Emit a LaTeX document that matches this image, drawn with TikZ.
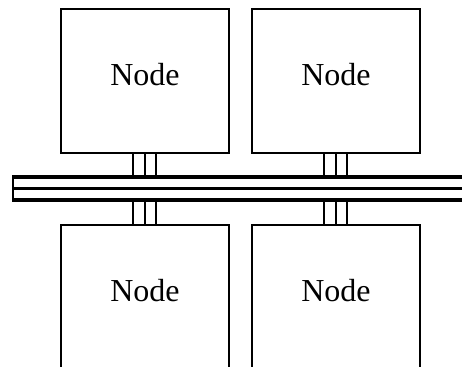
\documentclass[tikz,border=0pt]{standalone}
\usepackage{fontspec}
\setmainfont{Liberation Serif}
\usetikzlibrary{positioning}

\begin{document}
\begin{tikzpicture}[x=1pt, y=-1pt,
  box/.style={draw, line width=2pt, minimum width=168pt, minimum height=144pt, inner sep=0pt},
  txt/.style={font=\fontsize{32}{38}\selectfont, inner sep=0pt},
  bus/.style={line width=3.3pt},
  tap/.style={line width=2.8pt}]
\clip (0,0) rectangle (462,366);
% boxes
\node [box,name=n1] at (145,81) {};
\node [box,name=n2,right=21pt of n1] {};
\node [box,name=n3] at (145,297) {};
\node [box,name=n4,right=21pt of n3] {};
\foreach \n in {n1,n2,n3,n4}
  \node [txt] at ([yshift=6.6pt]\n.center) {Node};
% the bus
\coordinate (bt) at (13,177);
\coordinate (bm) at (13,188.5);
\coordinate (bb) at (13,200);
\draw [bus] (bt) -- ++(460,0);
\draw [bus] (bm) -- ++(460,0);
\draw [bus] (bb) -- ++(460,0);
\draw [line width=2.2pt] ([yshift=1.65pt]bt) -- ([yshift=-1.65pt]bb);
% taps
\foreach \a/\b in {n1/n3,n2/n4}
  \foreach \dx in {-12,0,11} {
    \path (\a.south) ++(\dx,0) coordinate (p);
    \path (\b.north) ++(\dx,0) coordinate (q);
    \draw [tap] (p) -- (p |- bt);
    \draw [tap] (q) -- (q |- bb);
  }
\end{tikzpicture}
\end{document}
